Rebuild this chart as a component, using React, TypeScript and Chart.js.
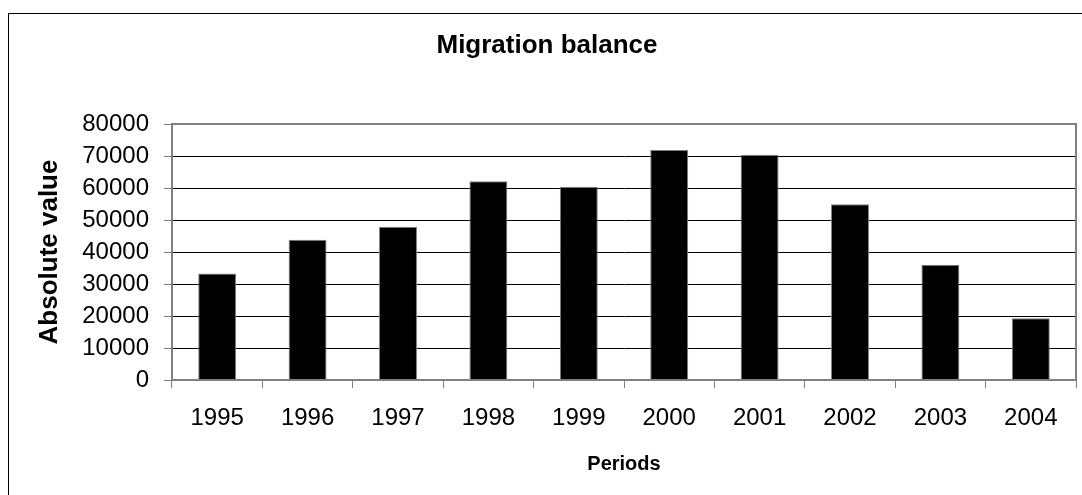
import React, { useEffect, useRef } from 'react';
import { Chart, registerables } from 'chart.js';

Chart.register(...registerables);

const categories = ['1995', '1996', '1997', '1998', '1999', '2000', '2001', '2002', '2003', '2004'];
const migrationBalance = [33250, 43850, 47900, 62100, 60400, 71900, 70400, 54900, 36000, 19300];
const yMin = 0;
const yMax = 80000;
const yStep = 10000;

const chartTitle = 'Migration balance';
const xTitle = 'Periods';
const yTitle = 'Absolute value';

const FONT = "'Liberation Sans', Arial, sans-serif";

const framePlugin = {
  id: 'frame',
  beforeDraw(chart: any) {
    const { ctx, width, height } = chart;
    ctx.save();
    ctx.fillStyle = '#ffffff';
    ctx.fillRect(0, 0, width, height);
    ctx.strokeStyle = '#000000';
    ctx.lineWidth = 1;
    ctx.strokeRect(8.5, 13.5, width + 10, height + 10);
    ctx.restore();
  },
  afterDraw(chart: any) {
    const { ctx, chartArea } = chart;
    ctx.save();
    ctx.strokeStyle = '#808080';
    ctx.lineWidth = 2;
    ctx.strokeRect(chartArea.left, chartArea.top, chartArea.right - chartArea.left, chartArea.bottom - chartArea.top);
    ctx.restore();
  },
};

export default function App() {
  const ref = useRef<HTMLCanvasElement>(null);

  useEffect(() => {
    document.body.style.margin = '0';
    const canvas = ref.current;
    if (!canvas) return;
    const chart = new Chart(canvas, {
      type: 'bar',
      data: {
        labels: categories,
        datasets: [
          {
            label: 'Migration balance',
            data: migrationBalance,
            backgroundColor: '#000000',
            borderColor: '#808080',
            borderWidth: 1,
            barPercentage: 0.42,
            categoryPercentage: 1,
          },
        ],
      },
      options: {
        responsive: false,
        animation: false,
        devicePixelRatio: 1,
        layout: { padding: { left: 18, right: 6, top: 0, bottom: 0 } },
        plugins: {
          legend: { display: false },
          tooltip: { enabled: false },
          title: {
            display: true,
            text: chartTitle,
            color: '#000000',
            font: { family: FONT, size: 26, weight: 'bold' },
            padding: { top: 30, bottom: 62.8 },
          },
        },
        scales: {
          x: {
            grid: {
              display: true,
              drawOnChartArea: false,
              drawTicks: true,
              tickLength: 8,
              tickColor: '#808080',
              tickWidth: 1,
              offset: true,
            },
            border: { display: true, color: '#808080', width: 2 },
            ticks: {
              color: '#000000',
              font: { family: FONT, size: 24 },
              padding: 16,
              maxRotation: 0,
            },
            title: {
              display: true,
              text: xTitle,
              color: '#000000',
              font: { family: FONT, size: 20, weight: 'bold' },
              padding: { top: 0, bottom: 19 },
            },
            afterFit(scale: any) {
              scale.height = 115;
            },
          },
          y: {
            min: yMin,
            max: yMax,
            grid: {
              color: '#000000',
              lineWidth: 1,
              drawTicks: true,
              tickLength: 8,
              tickColor: '#808080',
            },
            border: { display: true, color: '#808080', width: 2 },
            ticks: {
              stepSize: yStep,
              color: '#000000',
              font: { family: FONT, size: 24 },
              padding: 15,
              callback: (value: any) => String(value),
            },
            title: {
              display: true,
              text: yTitle,
              color: '#000000',
              font: { family: FONT, size: 26, weight: 'bold' },
              padding: { top: 16, bottom: 0 },
            },
            afterFit(scale: any) {
              scale.width = 154;
            },
          },
        },
      },
      plugins: [framePlugin],
    });
    return () => chart.destroy();
  }, []);

  return (
    <div style={{ width: 1082, height: 495 }}>
      <canvas ref={ref} width={1082} height={495} style={{ display: 'block' }} />
    </div>
  );
}
